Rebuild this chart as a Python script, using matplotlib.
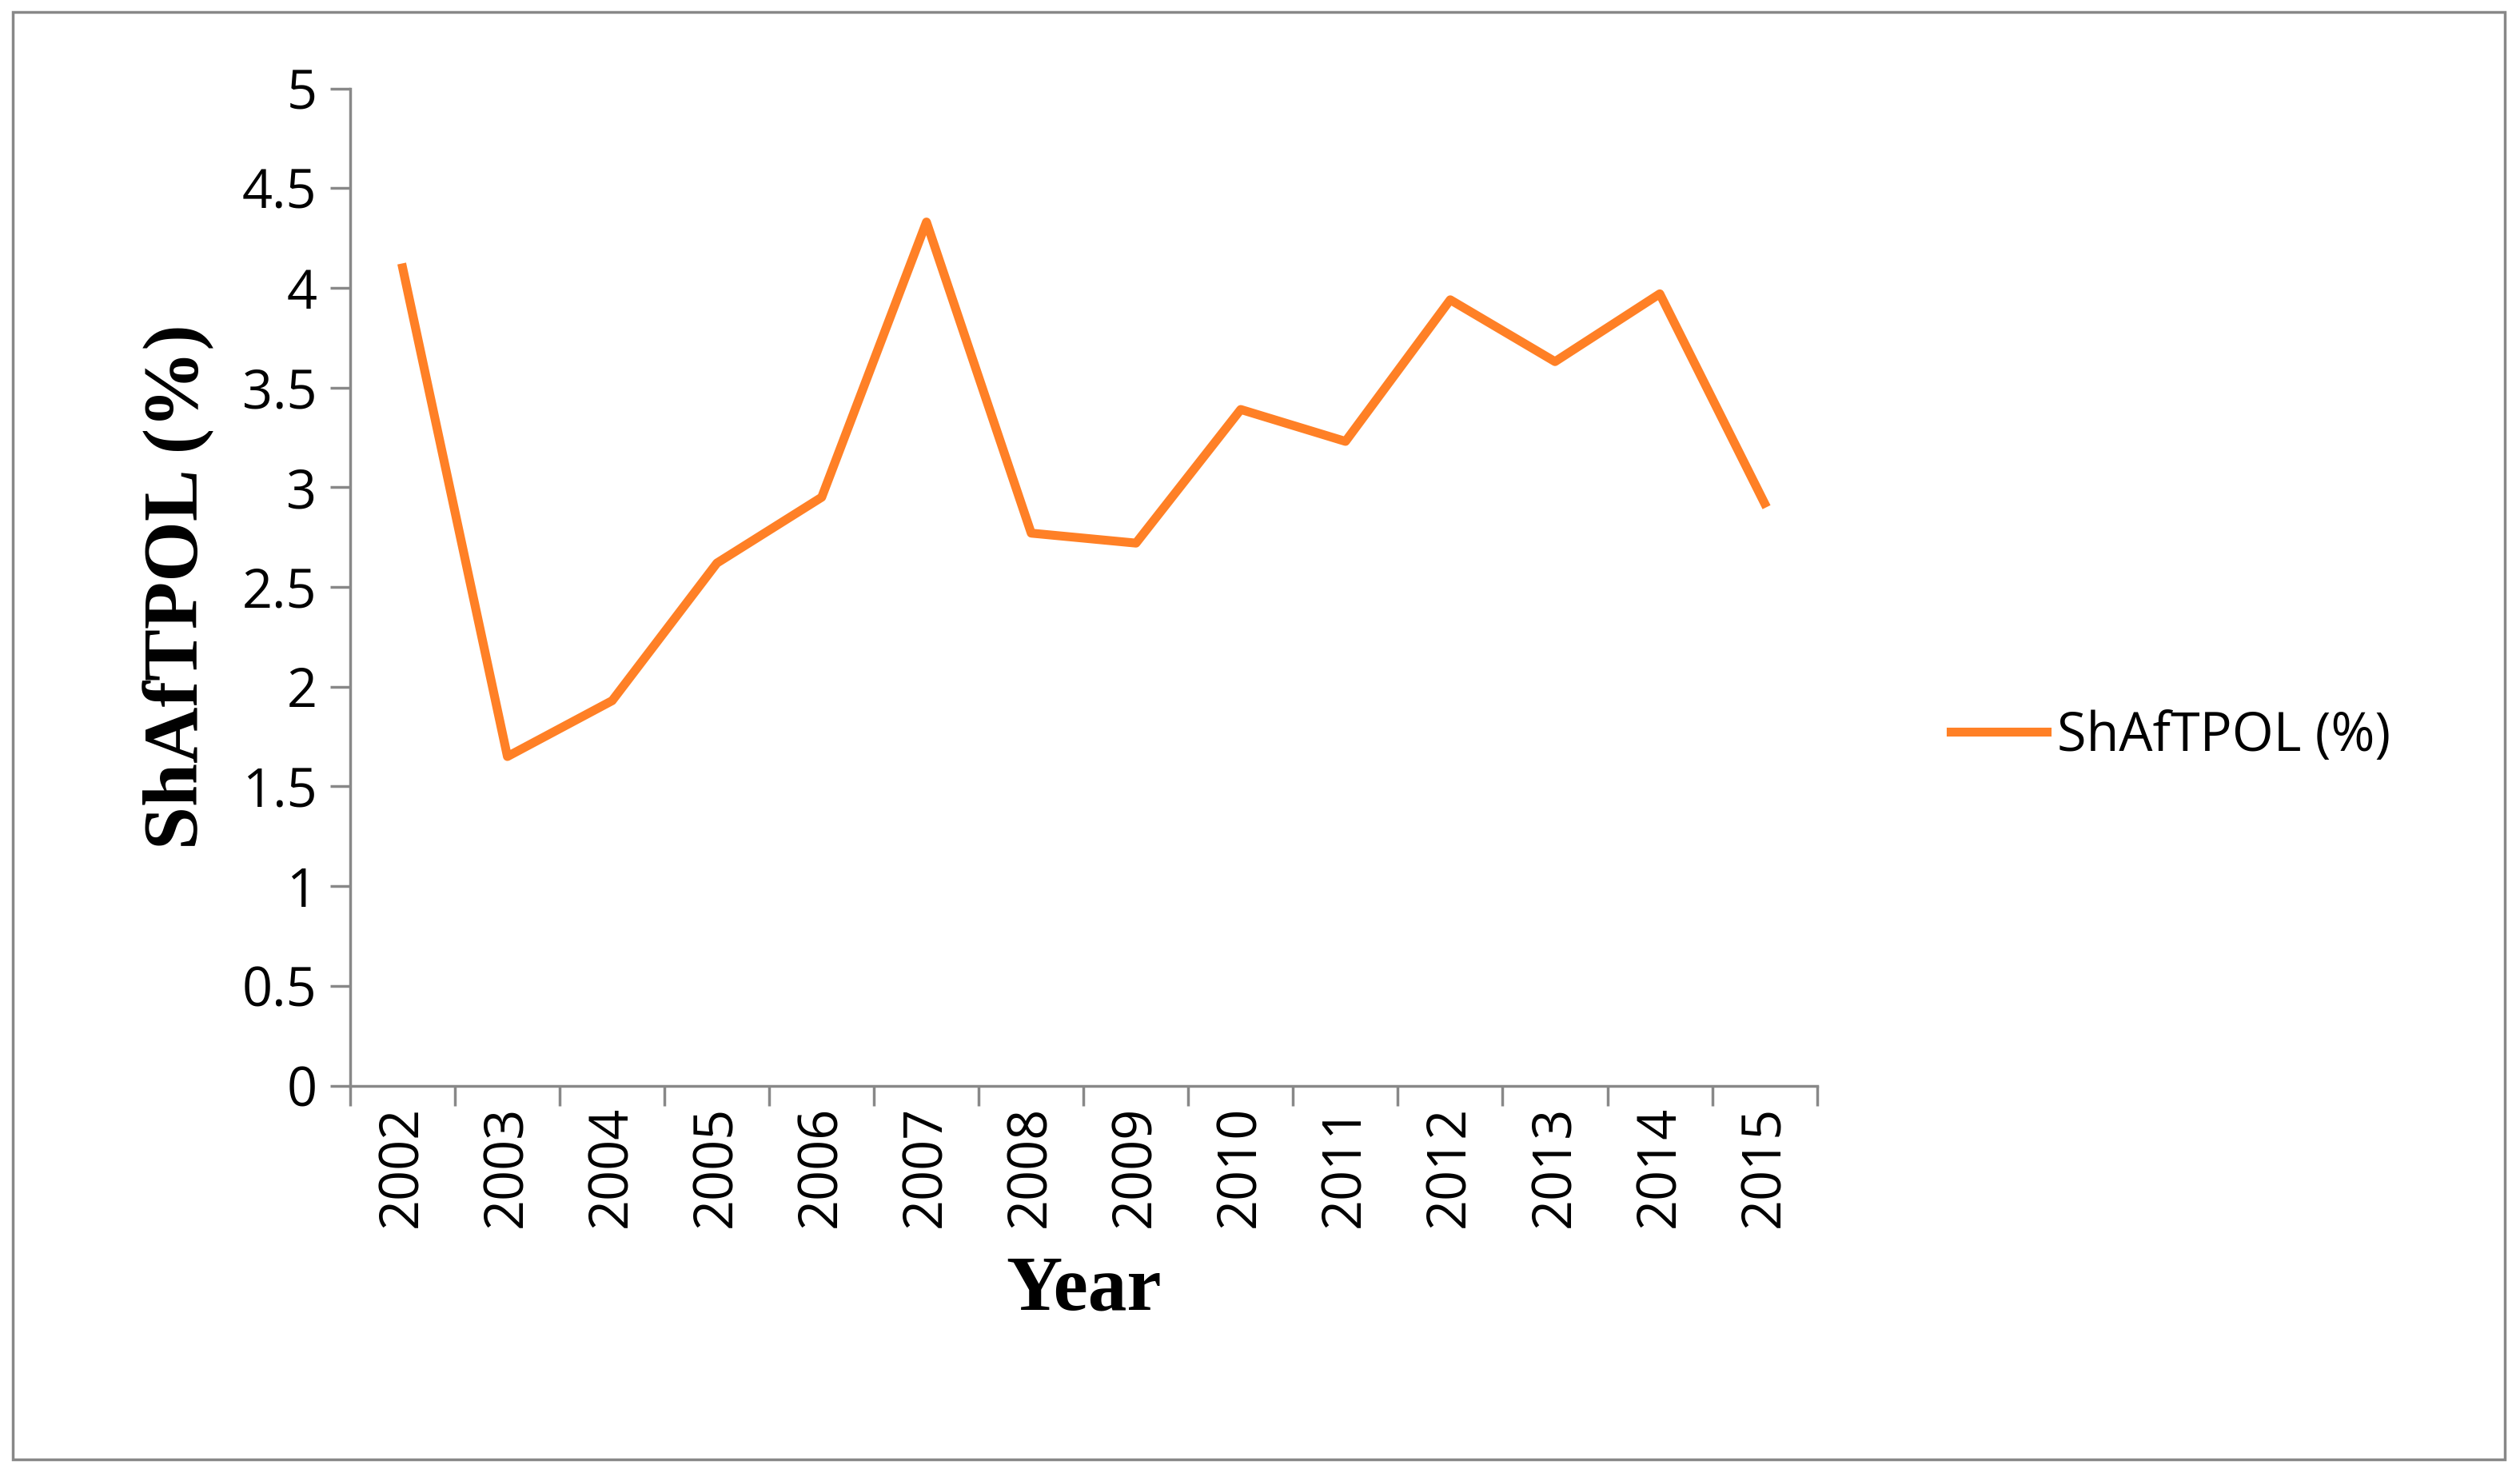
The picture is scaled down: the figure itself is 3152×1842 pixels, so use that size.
import numpy as np
import matplotlib.pyplot as plt
from matplotlib.patches import Rectangle

years = ['2002', '2003', '2004', '2005', '2006', '2007', '2008',
         '2009', '2010', '2011', '2012', '2013', '2014', '2015']
shaf = [4.1, 1.65, 1.93, 2.62, 2.95, 4.33, 2.77,
        2.72, 3.39, 3.23, 3.94, 3.63, 3.97, 2.92]
yticks = [0, 0.5, 1, 1.5, 2, 2.5, 3, 3.5, 4, 4.5, 5]

fig = plt.figure(figsize=(31.52, 18.42), dpi=100)
ax = fig.add_axes([0.139, 0.263, 0.582, 0.677])
x = np.arange(len(years))
line, = ax.plot(x, shaf, color='#FF8026', lw=8, label='ShAfTPOL (%)')

gray = '#888888'
ax.set_xlim(-0.5, len(years) - 0.5)
ax.set_ylim(0, 5)
ax.set_yticks(yticks)
ax.set_yticklabels([f'{v:g}' for v in yticks])
ax.set_xticks(x)
ax.set_xticklabels(years, rotation=90)
ax.set_xticks(np.arange(len(years) + 1) - 0.5, minor=True)
ax.tick_params(axis='x', which='major', length=0, pad=18)
ax.tick_params(axis='x', which='minor', length=18, width=2.5, color=gray)
ax.tick_params(axis='y', length=18, width=2.5, color=gray, pad=12)
for lab in ax.get_xticklabels() + ax.get_yticklabels():
    lab.set_fontfamily('Open Sans')
    lab.set_fontsize(48)
for s in ['top', 'right']:
    ax.spines[s].set_visible(False)
for s in ['left', 'bottom']:
    ax.spines[s].set_color(gray)
    ax.spines[s].set_linewidth(2.5)

ax.set_xlabel('Year', fontfamily='Liberation Serif', fontweight='bold', fontsize=70, labelpad=25)
ax.set_ylabel('ShAfTPOL (%)', fontfamily='Liberation Serif', fontweight='bold', fontsize=70, labelpad=25)

fig.legend(handles=[line], loc='center left', bbox_to_anchor=(0.755, 0.5),
           frameon=False, handlelength=1.8, handletextpad=0.2,
           prop={'family': 'Open Sans', 'size': 48})

fig.patches.append(Rectangle((0.005, 0.009), 0.989, 0.983, transform=fig.transFigure,
                             fill=False, edgecolor=gray, lw=2.5))

fig.savefig('out.png', dpi=100)
